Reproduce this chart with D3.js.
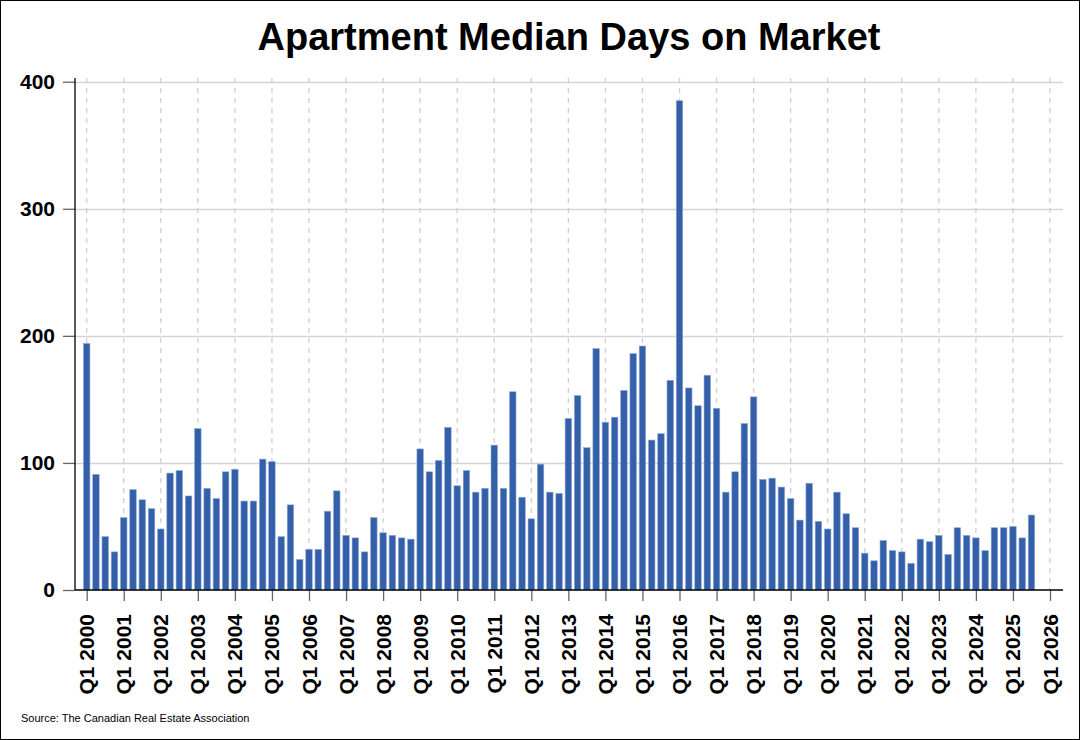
<!DOCTYPE html>
<html>
<head>
<meta charset="utf-8">
<script src="https://cdn.jsdelivr.net/npm/d3@7"></script>
<style>
  html, body { margin: 0; padding: 0; background: #fff; }
  svg { display: block; }
</style>
</head>
<body>
<svg id="chart" width="1080" height="740"></svg>
<script>
// ---- Data ----
const title = "Apartment Median Days on Market";
const source = "Source: The Canadian Real Estate Association";
const startYear = 2000;
// Quarterly median days on market, Q1 2000 .. Q3 2025
const values = [
  194, 91, 42, 30,   57, 79, 71, 64,   48, 92, 94, 74,   127, 80, 72, 93,
  95, 70, 70, 103,   101, 42, 67, 24,   32, 32, 62, 78,   43, 41, 30, 57,
  45, 43, 41, 40,    111, 93, 102, 128, 82, 94, 77, 80,   114, 80, 156, 73,
  56, 99, 77, 76,    135, 153, 112, 190, 132, 136, 157, 186, 192, 118, 123, 165,
  385, 159, 145, 169, 143, 77, 93, 131, 152, 87, 88, 81,   72, 55, 84, 54,
  48, 77, 60, 49,    29, 23, 39, 31,   30, 21, 40, 38,   43, 28, 49, 43,
  41, 31, 49, 49,    50, 41, 59
];
const yTicks = [0, 100, 200, 300, 400];
const xTickYears = d3.range(2000, 2027);
const xTickLabels = xTickYears.map(y => "Q1 " + y);

// ---- Layout ----
const W = 1080, H = 740;
const svg = d3.select("#chart");
const axisLeft = 75, axisRight = 1063, axisBottom = 590, plotTop = 78;

const x = d3.scaleLinear().domain([0, 104]).range([86.7, 1050]);
const y = d3.scaleLinear().domain([0, 400]).range([axisBottom, 81.7]);
const step = x(1) - x(0);
const barW = step * 0.7;

// outer border
svg.append("rect").attr("x", 0.5).attr("y", 0.5).attr("width", W - 1).attr("height", H - 1)
  .attr("fill", "#fff").attr("stroke", "#000").attr("stroke-width", 1);

// title
svg.append("text").attr("x", 569).attr("y", 50).attr("text-anchor", "middle")
  .attr("font-family", "Liberation Sans, Arial, sans-serif").attr("font-weight", "bold")
  .attr("font-size", 38).attr("fill", "#000").text(title);

// horizontal gridlines
svg.append("g").selectAll("line").data(yTicks.filter(d => d > 0)).join("line")
  .attr("x1", axisLeft).attr("x2", axisRight)
  .attr("y1", d => Math.round(y(d)) + 0.5).attr("y2", d => Math.round(y(d)) + 0.5)
  .attr("stroke", "#d4d4d4").attr("stroke-width", 1.3);

// vertical dashed gridlines
svg.append("g").selectAll("line").data(xTickYears).join("line")
  .attr("x1", d => x((d - startYear) * 4)).attr("x2", d => x((d - startYear) * 4))
  .attr("y1", plotTop).attr("y2", axisBottom)
  .attr("stroke", "#cfcfcf").attr("stroke-width", 1.3).attr("stroke-dasharray", "5,5");

// bars
svg.append("g").selectAll("rect").data(values).join("rect")
  .attr("x", (d, i) => x(i) - barW / 2)
  .attr("y", d => y(d))
  .attr("width", barW)
  .attr("height", d => y(0) - y(d))
  .attr("fill", "#345fa9")
  .attr("stroke", "#8ea9d6").attr("stroke-width", 0.6);

// y axis
const yAxis = d3.axisLeft(y).tickValues(yTicks).tickSize(12).tickPadding(8).tickFormat(d3.format("d"));
const gy = svg.append("g").attr("transform", `translate(${axisLeft},0)`).call(yAxis);
gy.select(".domain").remove();
gy.selectAll(".tick line").attr("stroke", "#666").attr("stroke-width", 1.3);
gy.selectAll(".tick text").attr("font-family", "Liberation Sans, Arial, sans-serif")
  .attr("font-weight", "bold").attr("font-size", 21).attr("fill", "#000");
svg.append("line").attr("x1", axisLeft).attr("x2", axisLeft).attr("y1", plotTop).attr("y2", axisBottom)
  .attr("stroke", "#000").attr("stroke-width", 1.3);

// x axis
const xAxis = d3.axisBottom(x).tickValues(xTickYears.map(d => (d - startYear) * 4))
  .tickSize(11).tickPadding(0).tickFormat((d, i) => xTickLabels[i]);
const gx = svg.append("g").attr("transform", `translate(0,${axisBottom})`).call(xAxis);
gx.select(".domain").remove();
gx.selectAll(".tick line").attr("stroke", "#666").attr("stroke-width", 1.3);
gx.selectAll(".tick text")
  .attr("font-family", "Liberation Sans, Arial, sans-serif")
  .attr("font-weight", "bold").attr("font-size", 21).attr("fill", "#000")
  .attr("text-anchor", "end").attr("dy", null)
  .attr("transform", "translate(7,24) rotate(-90)")
  .attr("x", 0).attr("y", 0);
svg.append("line").attr("x1", axisLeft).attr("x2", axisRight).attr("y1", axisBottom).attr("y2", axisBottom)
  .attr("stroke", "#000").attr("stroke-width", 1.5);

// source
svg.append("text").attr("x", 21).attr("y", 722)
  .attr("font-family", "Liberation Sans, Arial, sans-serif").attr("font-size", 11)
  .attr("fill", "#000").text(source);
</script>
</body>
</html>
